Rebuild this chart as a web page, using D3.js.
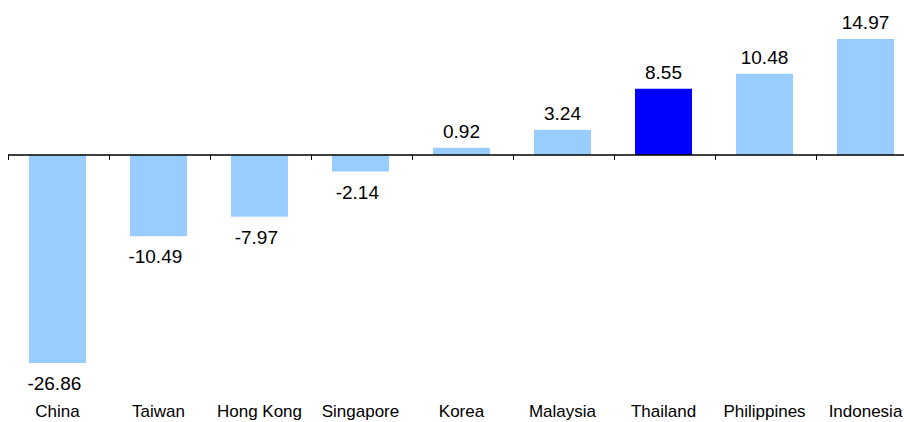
<!DOCTYPE html>
<html><head><meta charset="utf-8">
<script src="https://cdn.jsdelivr.net/npm/d3@7"></script>
<style>body{margin:0;background:#fff;}svg{display:block;font-family:Arial,"Liberation Sans",sans-serif;}</style>
</head><body><svg id="c" width="904" height="422"></svg>
<script>
const categories = ["China","Taiwan","Hong Kong","Singapore","Korea","Malaysia","Thailand","Philippines","Indonesia"];
const values = [-26.86,-10.49,-7.97,-2.14,0.92,3.24,8.55,10.48,14.97];
const highlight = ["Thailand"];

const svg = d3.select("#c");
const x = d3.scaleBand().domain(categories).range([7, 916]).paddingInner(0.4356).paddingOuter(0.2178);
const y = d3.scaleLinear().domain([-26.86, 14.97]).range([363, 39]);

svg.append("g").selectAll("rect").data(values).join("rect")
  .attr("x", (d,i) => x(categories[i]))
  .attr("width", x.bandwidth())
  .attr("y", d => y(Math.max(0,d)))
  .attr("height", d => Math.abs(y(d) - y(0)))
  .attr("fill", (d,i) => highlight.includes(categories[i]) ? "#0000ff" : "#99ccff");

// axis line with ticks at category boundaries
const step = x.step();
const bounds = d3.range(categories.length + 1).map(i => 8 + i * step);
svg.append("line").attr("x1", 8).attr("x2", 904).attr("y1", y(0)).attr("y2", y(0))
  .attr("stroke", "#000").attr("stroke-width", 1.5);
svg.append("g").selectAll("line").data(bounds).join("line")
  .attr("x1", d => Math.round(d)+0.5).attr("x2", d => Math.round(d)+0.5)
  .attr("y1", y(0)).attr("y2", y(0) + 5)
  .attr("stroke", "#000").attr("stroke-width", 1);

// value labels: numeric part centred on bar, minus sign hanging left
const meas = svg.append("text").attr("font-size", 19).attr("visibility", "hidden");
svg.append("g").selectAll("text").data(values).join("text")
  .attr("x", (d,i) => {
    meas.text(Math.abs(d).toFixed(2));
    const w = meas.node().getComputedTextLength();
    return x(categories[i]) + x.bandwidth()/2 + w/2;
  })
  .attr("y", d => d >= 0 ? y(d) - 10 : y(d) + 27)
  .attr("text-anchor", "end").attr("font-size", 19).attr("fill", "#000")
  .text(d => d.toFixed(2));
meas.remove();

svg.append("g").selectAll("text").data(categories).join("text")
  .attr("x", d => x(d) + x.bandwidth()/2)
  .attr("y", 417)
  .attr("text-anchor", "middle").attr("font-size", 17).attr("fill", "#000")
  .text(d => d);
</script></body></html>
